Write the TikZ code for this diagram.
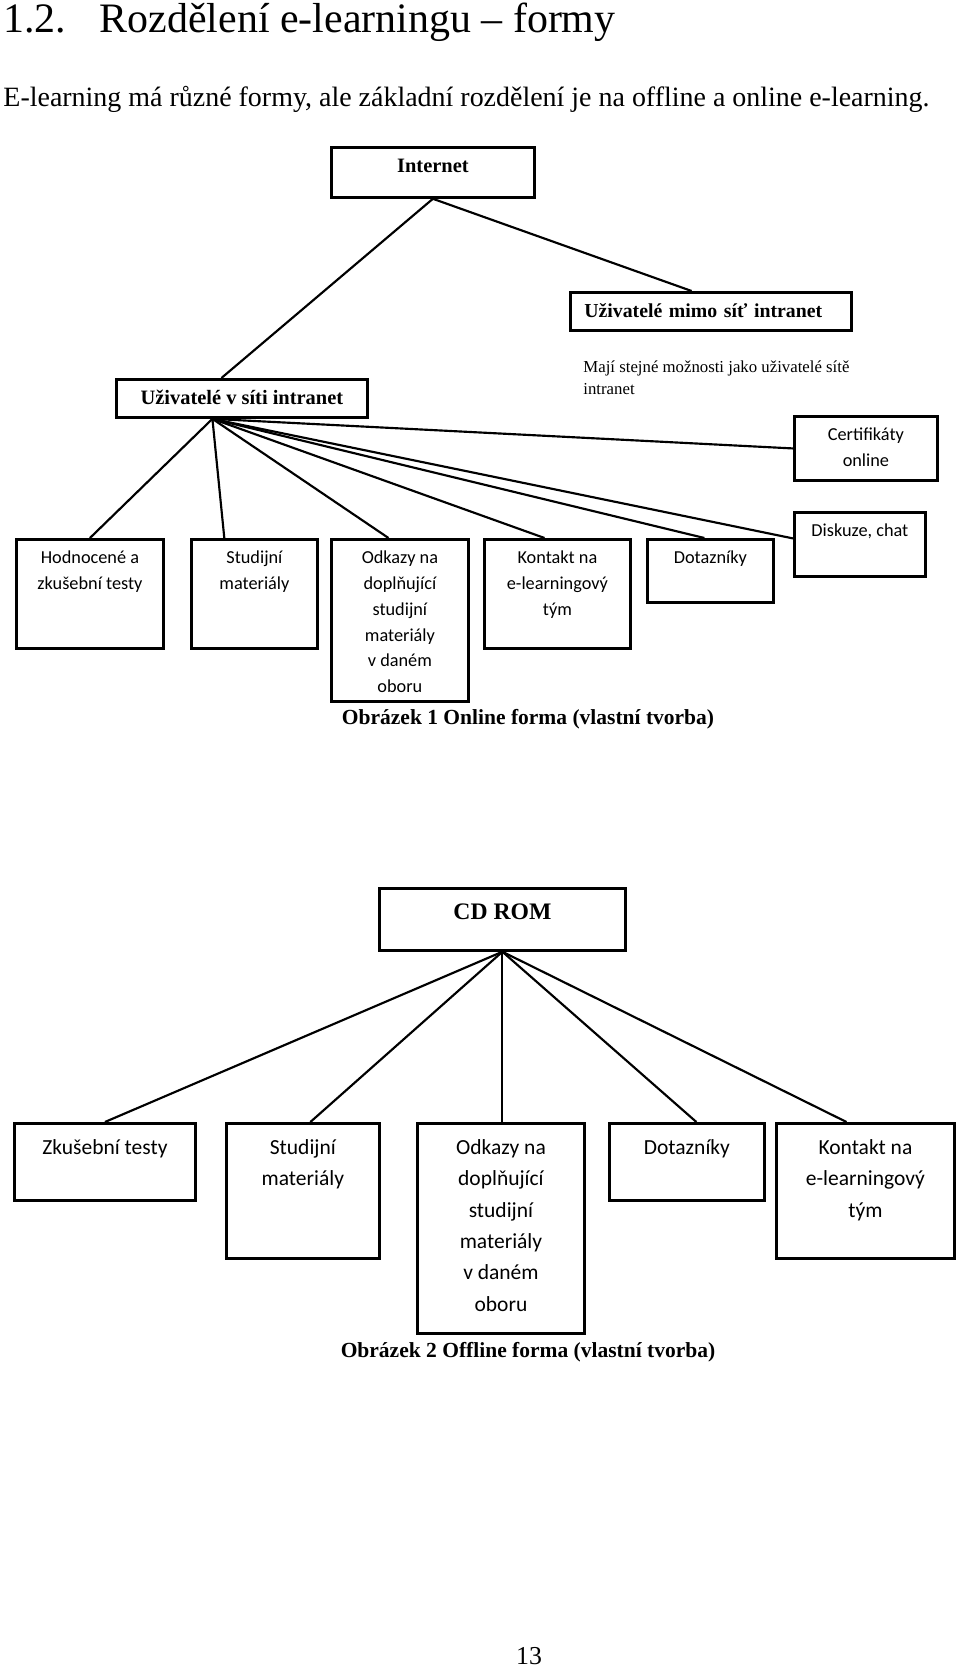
\documentclass[tikz,border=0pt]{standalone}
\usepackage{fontspec}
\setmainfont{Liberation Serif}
\newfontfamily\carlito{Carlito}
\usetikzlibrary{positioning}
% lines stacked from the top, baseline on the first line
\newcommand{\toplines}[2][c]{\begin{tabular}[t]{@{}#1@{}}#2\end{tabular}}
\tikzset{
  headbox/.style 2 args={
    rectangle, draw, line width=1.3pt, anchor=north west,
    font=\fontsize{9.5}{11}\selectfont\bfseries, align=center,
    inner xsep=2pt, inner ysep=3pt,
    minimum width=#1, text height=8.8pt, text depth=#2
  },
  onbox/.style 2 args={
    rectangle, draw, line width=1.3pt, anchor=north west,
    font=\carlito\fontsize{8.5}{12}\selectfont,
    inner xsep=2pt, inner ysep=3pt,
    minimum width=#1, text height=8.3pt, text depth=#2
  },
  offbox/.style 2 args={
    rectangle, draw, line width=1.3pt, anchor=north west,
    font=\carlito\fontsize{10}{14.6}\selectfont,
    inner xsep=2pt, inner ysep=3pt,
    minimum width=#1, text height=11.4pt, text depth=#2
  },
  notelabel/.style={
    font=\fontsize{7.8}{10.2}\selectfont,
    anchor=base west, inner sep=0pt
  },
  caption/.style={
    font=\fontsize{10}{12}\selectfont\bfseries, anchor=base, inner sep=0pt
  },
  link/.style={line width=1pt}
}

\begin{document}
\begin{tikzpicture}[x=0.465pt, y=-0.465pt]
  \path[use as bounding box] (0,0) rectangle (960,1670);
  % page text
  \node[anchor=base west, inner sep=0pt, font=\fontsize{19.5}{23}\selectfont] (title) at (3,33)
    {1.2.\hspace{15.5pt}Rozdělení e-learningu – formy};
  \node[anchor=base west, inner sep=0pt, font=\fontsize{13}{15}\selectfont] (para) at (3,107)
    {E-learning má různé formy, ale základní rozdělení je na offline a online e-learning.};

  % online form
  \node[headbox={94.4pt}{8.45pt}] (internet) at (330,146) {Internet};
  \node[headbox={130.7pt}{2.9pt}, inner xsep=6.5pt, text width=117.7pt, align=left, font=\fontsize{9.2}{11}\selectfont\bfseries] (mimo) at (569,291) {Uživatelé mimo síť intranet};
  \node[headbox={116.7pt}{2.9pt}] (vsiti) at (115,378) {Uživatelé v síti intranet};
  \node[notelabel] (note) at (583,373) {\toplines[l]{Mají stejné možnosti jako uživatelé sítě\\intranet}};
  \node[onbox={66.5pt}{15.5pt}] (cert) at (793,415) {\toplines{Certifikáty\\online}};
  \node[onbox={60.9pt}{15.5pt}] (disk) at (793,511) {Diskuze, chat};
  \node[onbox={68.4pt}{36.4pt}] (hodn) at (15,538) {\toplines{Hodnocené a\\zkušební testy}};
  \node[onbox={58.6pt}{36.4pt}] (stud) at (190,538) {\toplines{Studijní\\materiály}};
  \node[onbox={63.7pt}{61pt}] (odk) at (330,538) {\toplines{Odkazy na\\doplňující\\studijní\\materiály\\v daném\\oboru}};
  \node[onbox={67.9pt}{36.4pt}] (kont) at (483,538) {\toplines{Kontakt na\\e-learningový\\tým}};
  \node[onbox={58.6pt}{15pt}] (dotaz) at (646,538) {Dotazníky};
  \node[caption] (cap1) at (528,724) {Obrázek 1 Online forma (vlastní tvorba)};

  \draw[link] (internet.south) -- ([xshift=-9.5pt]vsiti.north);
  \draw[link] (internet.south) -- ([xshift=-9pt]mimo.north);
  \draw[link] ([xshift=-13.7pt]vsiti.south) -- (hodn.north);
  \draw[link] ([xshift=-13.7pt]vsiti.south) -- ([xshift=-14pt]stud.north);
  \draw[link] ([xshift=-13.7pt]vsiti.south) -- ([xshift=-5.3pt]odk.north);
  \draw[link] ([xshift=-13.7pt]vsiti.south) -- ([xshift=-6pt]kont.north);
  \draw[link] ([xshift=-13.7pt]vsiti.south) -- ([xshift=-2.8pt]dotaz.north);
  \draw[link] ([xshift=-13.7pt]vsiti.south) -- ([yshift=2.8pt]disk.west);
  \draw[link] ([xshift=-13.7pt]vsiti.south) -- (cert.west);

  % offline form
  \node[headbox={114.4pt}{11.4pt}, text height=11.4pt, font=\fontsize{11}{13}\selectfont\bfseries] (cdrom) at (378,887) {CD ROM};
  \node[offbox={84.2pt}{18.4pt}] (zkus) at (13,1122) {Zkušební testy};
  \node[offbox={71.1pt}{45.4pt}] (stud2) at (225,1122) {\toplines{Studijní\\materiály}};
  \node[offbox={77.7pt}{80.3pt}] (odk2) at (416,1122) {\toplines{Odkazy na\\doplňující\\studijní\\materiály\\v daném\\oboru}};
  \node[offbox={72.1pt}{18.4pt}] (dotaz2) at (608,1122) {Dotazníky};
  \node[offbox={82.8pt}{45.4pt}] (kont2) at (775,1122) {\toplines{Kontakt na\\e-learningový\\tým}};
  \node[caption] (cap2) at (528,1357) {Obrázek 2 Offline forma (vlastní tvorba)};

  \draw[link] (cdrom.south) -- (zkus.north);
  \draw[link] (cdrom.south) -- ([xshift=3.5pt]stud2.north);
  \draw[link] (cdrom.south) -- (cdrom.south |- odk2.north);
  \draw[link] (cdrom.south) -- ([xshift=4.4pt]dotaz2.north);
  \draw[link] (cdrom.south) -- ([xshift=-8.8pt]kont2.north);

  \node[anchor=base, inner sep=0pt, font=\fontsize{12}{14}\selectfont] (pagenum) at (529,1664) {13};
\end{tikzpicture}
\end{document}
